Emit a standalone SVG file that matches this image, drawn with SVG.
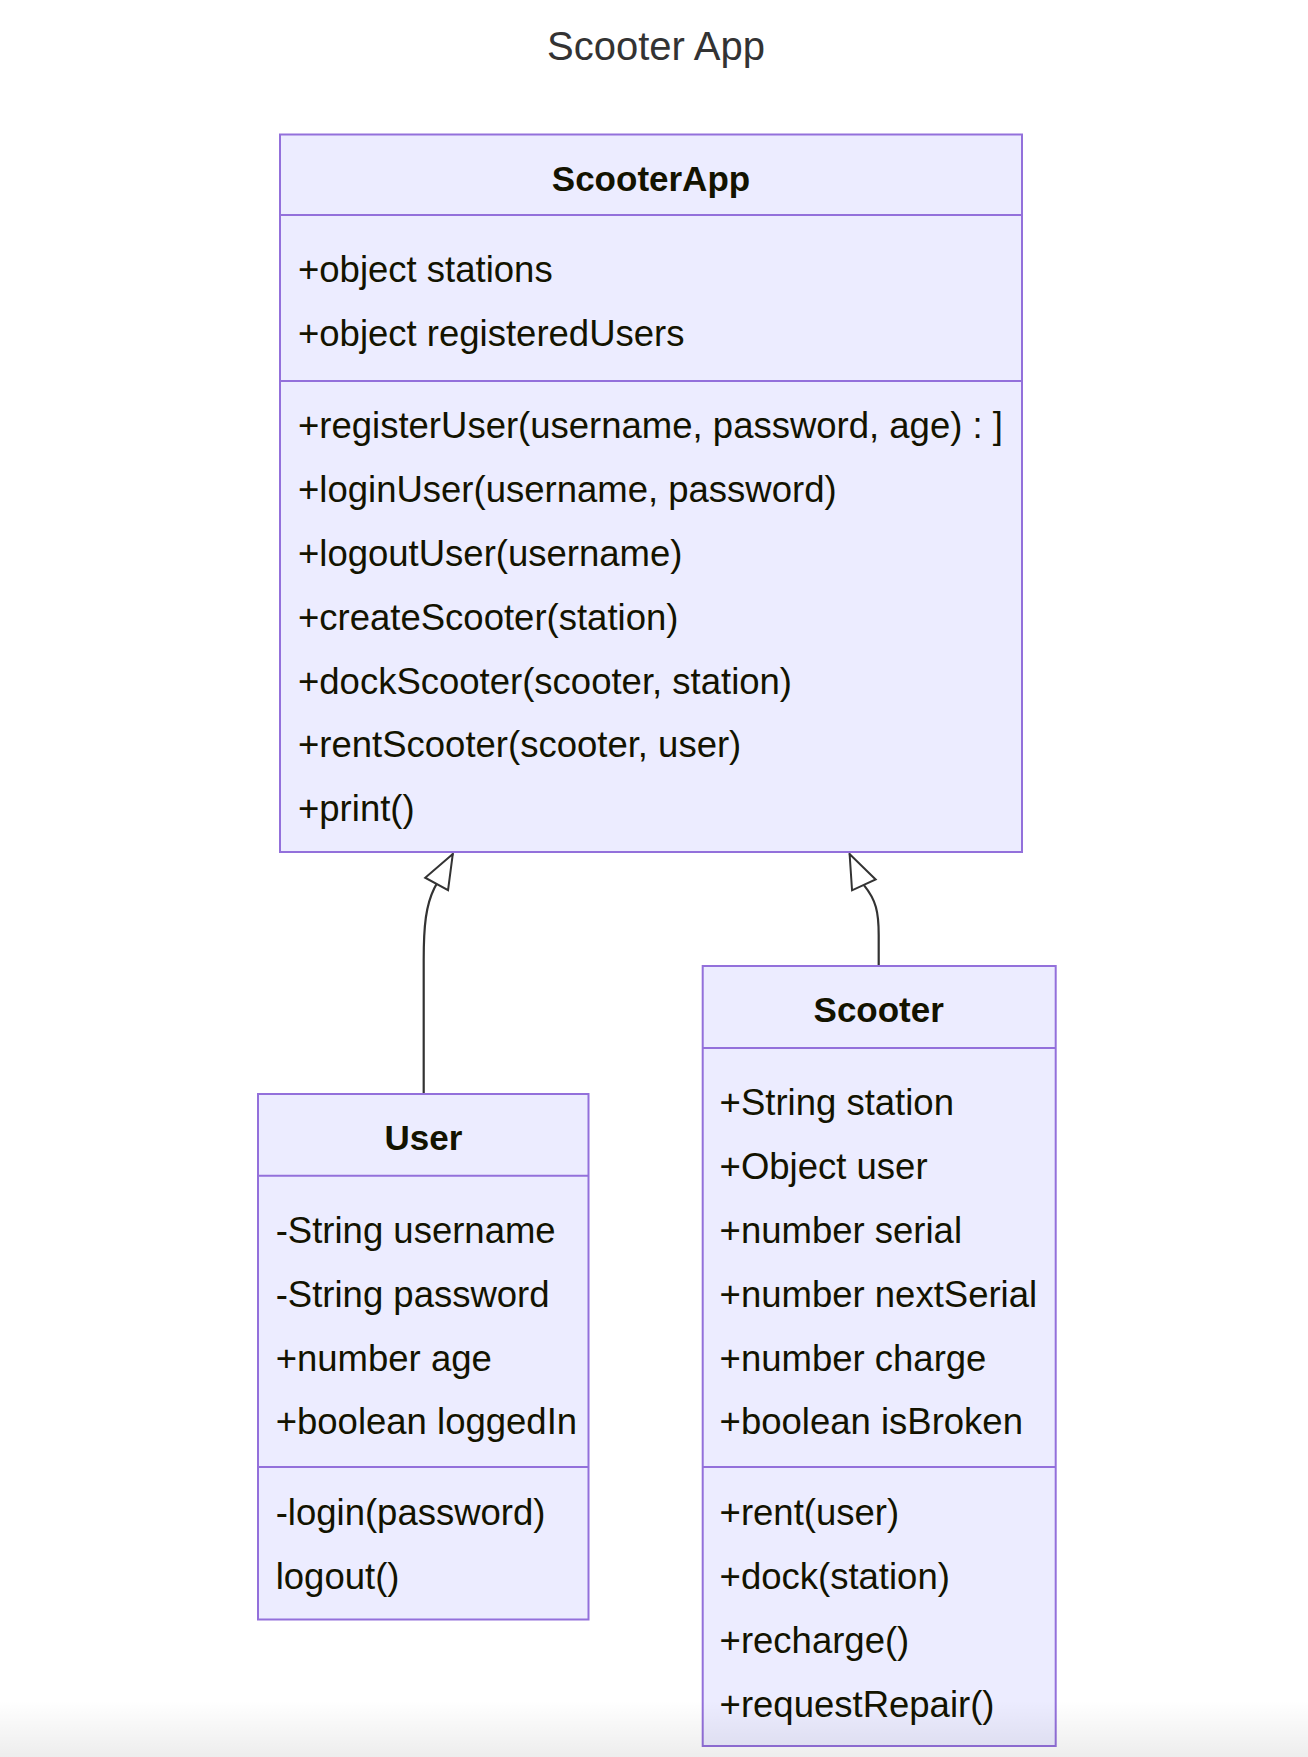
<svg xmlns="http://www.w3.org/2000/svg" width="1308" height="1757" viewBox="0 0 1308 1757">
  <style>
    .box { fill: #ECECFF; stroke: #9370DB; stroke-width: 2; }
    .div { stroke: #9370DB; stroke-width: 2; }
    .t { font-family: "Liberation Sans", Arial, sans-serif; font-size: 36.5px; fill: #131300; }
    .h { font-family: "Liberation Sans", Arial, sans-serif; font-size: 35px; font-weight: bold; fill: #131300; text-anchor: middle; }
    .title { font-family: "Liberation Sans", Arial, sans-serif; font-size: 40px; fill: #333333; text-anchor: middle; }
    .edge { fill: none; stroke: #333333; stroke-width: 2.2; }
  </style>
  <defs>
    <marker id="ext" markerUnits="userSpaceOnUse" viewBox="-37 -16 40 32" refX="0" refY="0" markerWidth="40" markerHeight="32" orient="auto" overflow="visible">
      <polygon points="0,0 -34,-13 -34,13" fill="#ffffff" stroke="#333333" stroke-width="2" stroke-linejoin="miter"/>
    </marker>
    <linearGradient id="shade" x1="0" y1="0" x2="0" y2="1">
      <stop offset="0" stop-color="#000000" stop-opacity="0"/>
      <stop offset="1" stop-color="#000000" stop-opacity="0.07"/>
    </linearGradient>
  </defs>
  <rect x="0" y="0" width="1308" height="1757" fill="#ffffff"/>

  <text class="title" x="656" y="60">Scooter App</text>

  <g id="connectors">
    <path class="edge" d="M423.7,1094 L423.7,960 C423.7,925 426,905 434.3,888.2 L452.8,854" marker-end="url(#ext)"/>
    <path class="edge" d="M878.7,966 L878.7,935 C878.7,912 876,900 864.1,885.4 L849.6,854" marker-end="url(#ext)"/>
  </g>

  <g id="ScooterApp">
    <rect class="box" x="280" y="134.5" width="742" height="717.5"/>
    <line class="div" x1="280" y1="215" x2="1022" y2="215"/>
    <line class="div" x1="280" y1="381" x2="1022" y2="381"/>
    <text class="h" x="651" y="191">ScooterApp</text>
    <text class="t" x="298" y="282">+object stations</text>
    <text class="t" x="298" y="346">+object registeredUsers</text>
    <text class="t" x="298" y="438">+registerUser(username, password, age) : ]</text>
    <text class="t" x="298" y="502">+loginUser(username, password)</text>
    <text class="t" x="298" y="566">+logoutUser(username)</text>
    <text class="t" x="298" y="630">+createScooter(station)</text>
    <text class="t" x="298" y="693.5">+dockScooter(scooter, station)</text>
    <text class="t" x="298" y="757">+rentScooter(scooter, user)</text>
    <text class="t" x="298" y="821">+print()</text>
  </g>

  <g id="User">
    <rect class="box" x="258" y="1094" width="330.5" height="525.5"/>
    <line class="div" x1="258" y1="1175.7" x2="588.5" y2="1175.7"/>
    <line class="div" x1="258" y1="1467" x2="588.5" y2="1467"/>
    <text class="h" x="423.5" y="1150">User</text>
    <text class="t" x="275.7" y="1242.7">-String username</text>
    <text class="t" x="275.7" y="1306.6">-String password</text>
    <text class="t" x="275.7" y="1370.5">+number age</text>
    <text class="t" x="275.7" y="1434.4">+boolean loggedIn</text>
    <text class="t" x="275.7" y="1525">-login(password)</text>
    <text class="t" x="275.7" y="1589">logout()</text>
  </g>

  <g id="Scooter">
    <rect class="box" x="702.7" y="966" width="353" height="780"/>
    <line class="div" x1="702.7" y1="1048" x2="1055.7" y2="1048"/>
    <line class="div" x1="702.7" y1="1467" x2="1055.7" y2="1467"/>
    <text class="h" x="878.7" y="1022">Scooter</text>
    <text class="t" x="719.6" y="1115">+String station</text>
    <text class="t" x="719.6" y="1178.8">+Object user</text>
    <text class="t" x="719.6" y="1242.7">+number serial</text>
    <text class="t" x="719.6" y="1306.6">+number nextSerial</text>
    <text class="t" x="719.6" y="1370.5">+number charge</text>
    <text class="t" x="719.6" y="1434.4">+boolean isBroken</text>
    <text class="t" x="719.6" y="1525">+rent(user)</text>
    <text class="t" x="719.6" y="1589">+dock(station)</text>
    <text class="t" x="719.6" y="1653">+recharge()</text>
    <text class="t" x="719.6" y="1717">+requestRepair()</text>
  </g>

  <rect x="0" y="1700" width="1308" height="57" fill="url(#shade)"/>
</svg>
